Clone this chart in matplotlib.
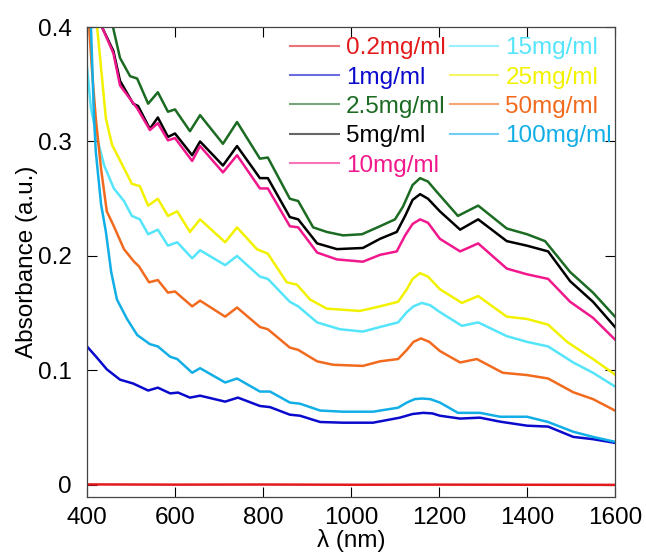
import matplotlib
matplotlib.use("Agg")
import matplotlib.pyplot as plt

plt.rcParams['font.family'] = ['Liberation Sans', 'DejaVu Sans']

labels = ["0.2mg/ml", "1mg/ml", "2.5mg/ml", "5mg/ml", "10mg/ml",
          "15mg/ml", "25mg/ml", "50mg/ml", "100mg/ml"]
colors = ["#e31a1c", "#0a0acd", "#1b6b23", "#000000", "#f0188c",
          "#55e5fa", "#f2f200", "#f26a1e", "#12aee6"]

wl_02 = [400, 600, 800, 1000, 1200, 1400, 1600]
a_02 = [0.0005, 0.0003, 0.0004, 0.0002, 0.0003, 0.0002, 0.0001]

wl_1 = [400, 423, 445, 475, 505, 539, 561, 589, 607, 634, 657, 714, 743, 793, 816,
        861, 884, 930, 982, 1050, 1111, 1140, 1164, 1185, 1202, 1248, 1293, 1339,
        1400, 1448, 1505, 1550, 1600]
a_1 = [0.121, 0.111, 0.101, 0.092, 0.0886, 0.0825, 0.085, 0.080, 0.0807, 0.0763,
       0.078, 0.0728, 0.0763, 0.069, 0.068, 0.0614, 0.0605, 0.055, 0.0544, 0.0544,
       0.0588, 0.062, 0.063, 0.0625, 0.0605, 0.058, 0.0588, 0.0553, 0.0518, 0.051,
       0.042, 0.040, 0.0368]

wl_25 = [459, 475, 498, 514, 539, 561, 584, 600, 634, 657, 709, 741, 793, 811, 861,
         880, 914, 945, 982, 1025, 1066, 1100, 1118, 1140, 1157, 1175, 1195, 1243,
         1289, 1354, 1400, 1441, 1498, 1550, 1600]
a_25 = [0.400, 0.373, 0.357, 0.355, 0.333, 0.343, 0.326, 0.328, 0.309, 0.323, 0.298,
        0.317, 0.285, 0.286, 0.250, 0.248, 0.225, 0.221, 0.218, 0.219, 0.226, 0.232,
        0.243, 0.262, 0.268, 0.265, 0.256, 0.235, 0.244, 0.224, 0.219, 0.213, 0.186,
        0.168, 0.147]

wl_5 = [434, 460, 475, 505, 516, 543, 561, 584, 600, 639, 657, 709, 741, 793, 811,
        861, 880, 923, 968, 1027, 1066, 1104, 1123, 1140, 1157, 1175, 1202, 1248,
        1289, 1354, 1400, 1448, 1498, 1550, 1600]
a_5 = [0.400, 0.379, 0.353, 0.333, 0.331, 0.311, 0.321, 0.304, 0.307, 0.288, 0.300,
       0.279, 0.296, 0.268, 0.268, 0.234, 0.232, 0.211, 0.206, 0.207, 0.215, 0.221,
       0.235, 0.249, 0.254, 0.250, 0.239, 0.223, 0.232, 0.213, 0.209, 0.204, 0.178,
       0.160, 0.138]

wl_10 = [434, 460, 475, 514, 543, 561, 584, 600, 639, 657, 709, 741, 793, 811, 861,
         880, 923, 968, 1027, 1066, 1104, 1123, 1140, 1157, 1175, 1202, 1248, 1289,
         1354, 1400, 1448, 1498, 1550, 1600]
a_10 = [0.400, 0.377, 0.349, 0.329, 0.310, 0.316, 0.301, 0.303, 0.283, 0.296, 0.273,
        0.288, 0.259, 0.259, 0.226, 0.225, 0.203, 0.197, 0.195, 0.201, 0.204, 0.218,
        0.228, 0.232, 0.229, 0.215, 0.204, 0.211, 0.189, 0.184, 0.180, 0.160, 0.146,
        0.127]

wl_15 = [400, 409, 423, 439, 461, 484, 502, 520, 539, 561, 584, 605, 639, 657, 714,
         741, 793, 811, 861, 880, 923, 975, 1027, 1066, 1107, 1127, 1142, 1161, 1180,
         1202, 1252, 1289, 1354, 1400, 1448, 1505, 1550, 1600]
a_15 = [0.365, 0.329, 0.303, 0.279, 0.259, 0.248, 0.235, 0.232, 0.219, 0.223, 0.209,
        0.212, 0.198, 0.205, 0.192, 0.200, 0.182, 0.180, 0.160, 0.156, 0.142, 0.136,
        0.134, 0.138, 0.142, 0.151, 0.156, 0.159, 0.157, 0.151, 0.139, 0.142, 0.130,
        0.125, 0.121, 0.107, 0.098, 0.086]

wl_25b = [423, 432, 443, 457, 477, 502, 520, 539, 561, 584, 605, 634, 657, 714, 741,
          786, 811, 854, 877, 907, 945, 1020, 1066, 1107, 1127, 1140, 1157, 1175,
          1202, 1252, 1289, 1354, 1400, 1448, 1491, 1550, 1600]
a_25b = [0.400, 0.364, 0.320, 0.297, 0.282, 0.263, 0.261, 0.244, 0.250, 0.235, 0.239,
         0.221, 0.232, 0.212, 0.225, 0.206, 0.202, 0.177, 0.175, 0.162, 0.154, 0.152,
         0.156, 0.160, 0.171, 0.180, 0.185, 0.182, 0.171, 0.159, 0.165, 0.147, 0.145,
         0.140, 0.125, 0.110, 0.0965]

wl_50 = [405, 411, 420, 432, 445, 461, 484, 507, 518, 541, 561, 584, 600, 639, 657,
         714, 741, 793, 811, 861, 880, 923, 959, 1027, 1066, 1107, 1127, 1142, 1159,
         1178, 1202, 1248, 1286, 1345, 1400, 1448, 1505, 1550, 1600]
a_50 = [0.400, 0.364, 0.320, 0.276, 0.239, 0.226, 0.206, 0.195, 0.191, 0.177, 0.179,
        0.168, 0.169, 0.156, 0.161, 0.147, 0.155, 0.138, 0.136, 0.120, 0.118, 0.108,
        0.105, 0.104, 0.108, 0.110, 0.118, 0.125, 0.128, 0.125, 0.117, 0.107, 0.110,
        0.098, 0.096, 0.093, 0.081, 0.075, 0.065]

wl_100 = [409, 416, 420, 432, 443, 455, 468, 491, 514, 543, 561, 589, 605, 639, 657,
          714, 741, 793, 816, 861, 884, 930, 982, 1050, 1107, 1127, 1145, 1161, 1180,
          1202, 1243, 1293, 1339, 1400, 1448, 1505, 1550, 1600]
a_100 = [0.400, 0.320, 0.291, 0.245, 0.221, 0.186, 0.162, 0.145, 0.131, 0.123, 0.121,
         0.112, 0.110, 0.098, 0.102, 0.0895, 0.093, 0.0816, 0.0816, 0.072, 0.071,
         0.065, 0.064, 0.064, 0.0675, 0.072, 0.075, 0.0755, 0.075, 0.072, 0.063,
         0.063, 0.0596, 0.0596, 0.055, 0.0465, 0.042, 0.0377]

xs = [wl_02, wl_1, wl_25, wl_5, wl_10, wl_15, wl_25b, wl_50, wl_100]
ys = [a_02, a_1, a_25, a_5, a_10, a_15, a_25b, a_50, a_100]

x_ticks = [400, 600, 800, 1000, 1200, 1400, 1600]
y_ticks = [0, 0.1, 0.2, 0.3, 0.4]
y_ticklabels = ["0", "0.1", "0.2", "0.3", "0.4"]

FS = 17.5

fig = plt.figure(figsize=(6.46, 5.58), dpi=100)
ax = fig.add_axes([87/646, 1-497/558, (615-87)/646, (497-27)/558])

for x, y, c, lab in zip(xs, ys, colors, labels):
    ax.plot(x, y, color=c, lw=1.8, label=lab, solid_joinstyle='round')

ax.set_xlim(400, 1600)
ax.set_ylim(-0.0105, 0.4)
ax.set_xticks(x_ticks)
ax.set_yticks(y_ticks)
ax.set_yticklabels(y_ticklabels)
ax.tick_params(direction='in', length=7, width=0.8, top=True, right=True,
               labelsize=FS, colors='black')
ax.tick_params(axis='x', pad=7)
ax.tick_params(axis='y', pad=11)
for s in ax.spines.values():
    s.set_linewidth(0.9)
    s.set_color('#444444')

ax.set_ylabel("Absorbance (a.u.)", fontsize=FS, labelpad=0)
ax.set_xlabel("λ (nm)", fontsize=FS, labelpad=0)

leg = ax.legend(ncol=2, loc='upper left', bbox_to_anchor=(0.385, 0.978),
                frameon=False, fontsize=FS, handlelength=2.0,
                handletextpad=0.3, columnspacing=0.15, labelspacing=0.30,
                borderpad=0, borderaxespad=0)
for t, c in zip(leg.get_texts(), colors):
    t.set_color(c)
for h in leg.get_lines():
    h.set_alpha(0.6)
    h.set_linewidth(1.5)

fig.savefig("out.png", dpi=100)
